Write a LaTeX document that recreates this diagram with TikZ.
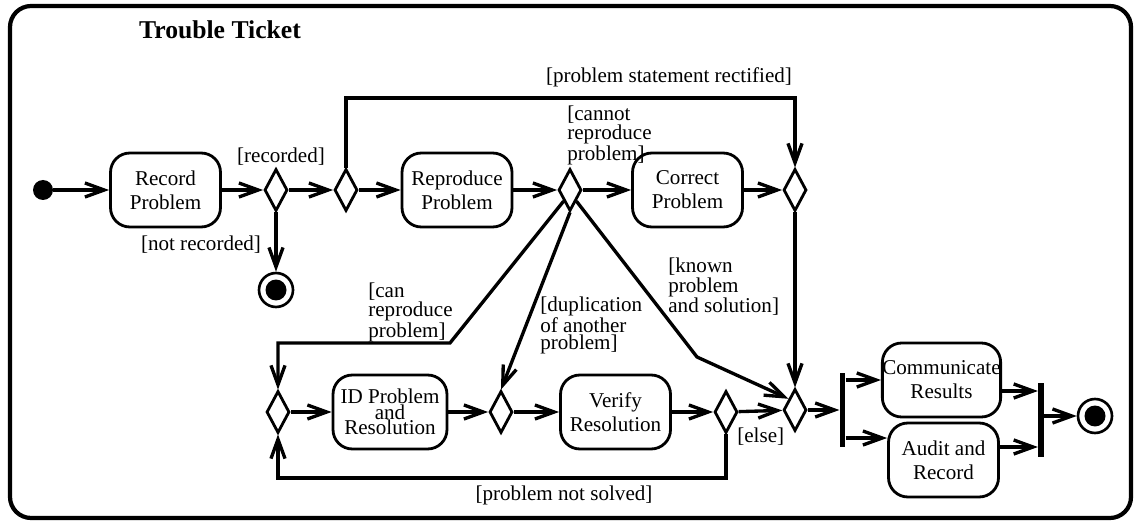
\documentclass[tikz,border=0pt]{standalone}
\usepackage{fontspec}
\setmainfont{Liberation Serif}
\usepackage{tikz}
\usetikzlibrary{shapes.geometric, arrows.meta, positioning}
\tikzset{
    ticket/.style={font=\fontsize{12}{13.6}\selectfont},
    ticket action/.style={rounded corners=11pt, draw, line width=1.6pt, align=center,
        minimum width=2.2cm, minimum height=1.48cm, inner sep=1pt},
    ticket decision/.style={diamond, draw, line width=1.6pt, inner sep=0pt,
        minimum width=0.46cm, minimum height=0.84cm},
    ticket start/.style={circle, fill, inner sep=0pt, minimum size=0.4cm},
    ticket end/.style={circle, draw, line width=1.5pt, inner sep=0pt, minimum size=0.68cm,
        path picture={\fill (path picture bounding box.center) circle (0.21cm);}},
    ticket bar/.style={fill, inner sep=0pt, minimum width=0.11cm, minimum height=1.5cm},
    ticket arrow/.style={-{Straight Barb[length=11pt, width=8pt]}, line width=1.9pt},
    ticket guard/.style={font=\fontsize{12}{9.6}\selectfont, align=left, inner sep=0pt},
    ticket frame/.style={rounded corners=12pt, line width=2.4pt},
}

\begin{document}
\begin{tikzpicture}[ticket, x=0.02cm, y=-0.02cm]
    \useasboundingbox (0,0) rectangle (1135,523);
    \draw[ticket frame] (10,6) rectangle (1131,518);
    \node[font=\fontsize{14.6}{16}\selectfont\bfseries] (title) at (220,30) {Trouble Ticket};

    % upper row
    \node[ticket start] (start) at (43,190) {};
    \node[ticket action] (record) at (165.5,190) {Record\\Problem};
    \node[ticket decision] (recorded) at (276,190) {};
    \node[ticket end] (stopRecord) at (276,290) {};
    \node[ticket decision] (rectified) at (346,190) {};
    \node[ticket action] (reproduce) at (457,190) {Reproduce\\Problem};
    \node[ticket decision] (reproduced) at (570,190) {};
    \node[ticket action] (correct) at (687.5,190) {Correct\\Problem};
    \node[ticket decision] (corrected) at (795,190) {};

    % lower row
    \node[ticket decision] (retry) at (278,412) {};
    \node[ticket action, minimum width=2.28cm, font=\fontsize{12}{8.8}\selectfont]
        (identify) at (390,412) {ID Problem\\and\\Resolution};
    \node[ticket decision] (duplicate) at (501,412) {};
    \node[ticket action] (verify) at (615.5,412) {Verify\\Resolution};
    \node[ticket decision] (solved) at (726,412) {};
    \node[ticket decision] (resolved) at (795,410) {};
    \node[ticket bar] (fork) at (842.5,410) {};
    \node[ticket action, inner sep=0pt] (communicate) at (941.5,380) {Communicate\\Results};
    \node[ticket action] (audit) at (943.5,460) {Audit and\\Record};
    \node[ticket bar] (join) at (1041,420) {};
    \node[ticket end] (stopTicket) at (1095,416) {};

    % guards
    \node[ticket guard] (gRecorded) at (281,157) {[recorded]};
    \node[ticket guard] (gNotRecorded) at (201,245) {[not recorded]};
    \node[ticket guard] (gRectified) at (669,77) {[problem statement rectified]};
    \node[ticket guard, anchor=west] (gCannot) at (567,135) {[cannot\\reproduce\\problem]};
    \node[ticket guard, anchor=west] (gCan) at (368,312) {[can\\reproduce\\problem]};
    \node[ticket guard, anchor=west] (gDuplicate) at (540,325) {[duplication\\of another\\problem]};
    \node[ticket guard, anchor=west] (gKnown) at (668,287) {[known\\problem\\and solution]};
    \node[ticket guard, anchor=west] (gElse) at (737,437) {[else]};
    \node[ticket guard] (gNotSolved) at (564,495) {[problem not solved]};

    \coordinate (topline) at (0,98);
    \coordinate (canBend) at (450,343);
    \coordinate (knownBend) at (697,357);
    \coordinate (loopline) at (0,478);
    \coordinate (auditIn) at (0,438);
    \coordinate (joinTop) at (0,391);
    \coordinate (joinBottom) at (0,447);

    \draw[ticket arrow] (start) -- (record);
    \draw[ticket arrow] (record) -- (recorded);
    \draw[ticket arrow] (recorded) -- (rectified);
    \draw[ticket arrow] (recorded) -- (stopRecord);
    \draw[ticket arrow] (rectified) -- (reproduce);
    \draw[ticket arrow] (rectified.north) -- (rectified.north |- topline) -| (corrected.north);
    \draw[ticket arrow] (reproduce) -- (reproduced);
    \draw[ticket arrow] (reproduced) -- (correct);
    \draw[ticket arrow] (correct) -- (corrected);
    \draw[ticket arrow] (corrected) -- (resolved);
    \draw[ticket arrow] (reproduced.south west) -- (canBend) -| (retry.north);
    \draw[ticket arrow] (reproduced.south) -- (duplicate.north);
    \draw[ticket arrow] (reproduced.south east) -- (knownBend) -- (resolved.north west);
    \draw[ticket arrow] (retry) -- (identify);
    \draw[ticket arrow] (identify) -- (duplicate);
    \draw[ticket arrow] (duplicate) -- (verify);
    \draw[ticket arrow] (verify) -- (solved);
    \draw[ticket arrow] (solved) -- (resolved);
    \draw[ticket arrow] (solved.south) -- (solved.south |- loopline) -| (retry.south);
    \draw[ticket arrow] (resolved) -- (fork);
    \draw[ticket arrow] (fork.east |- communicate) -- (communicate);
    \draw[ticket arrow] (fork.east |- auditIn) -- (audit.west |- auditIn);
    \draw[ticket arrow] (communicate.east |- joinTop) -- (join.west |- joinTop);
    \draw[ticket arrow] (audit.east |- joinBottom) -- (join.west |- joinBottom);
    \draw[ticket arrow] (join.east |- stopTicket) -- (stopTicket);
\end{tikzpicture}
\end{document}
